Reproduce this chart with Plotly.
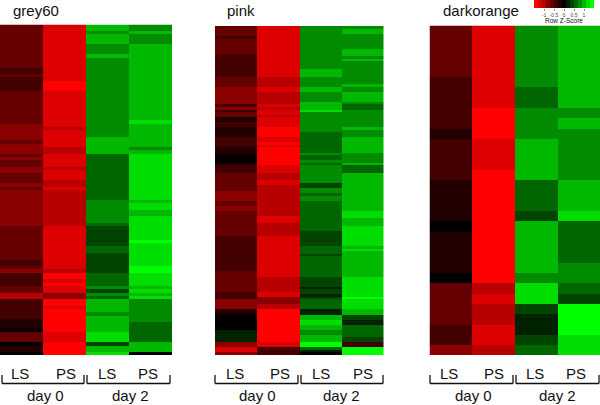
import numpy as np
import plotly.graph_objects as go

# values are in steps of the colour key (1 step = 0.2 z-score), read top to bottom
step = 0.2
columns = ["LS day 0", "PS day 0", "LS day 2", "PS day 2"]

grey60_ls0 = [-3]*13 + [-2]*2 + [-3]*1 + [-2]*4 + [-3]*10 + [-4]*5 + [-3]*1 + [-4]*3 + [-3]*1 + [-4]*1 + [-3]*2 + [-4]*2 + [-3]*3 + [-4]*1 + [-3]*1 + [-4]*11 + [-3]*10 + [-2]*2 + [-3]*1 + [-4]*1 + [-2]*4 + [-3]*2 + [-5]*2 + [-2]*6 + [-1]*3 + [0]*1 + [-3]*3 + [0]*1 + [-1]*2 + [0]*1
grey60_ps0 = [-6]*17 + [-7]*3 + [-6]*11 + [-5]*1 + [-6]*5 + [-5]*2 + [-6]*4 + [-5]*1 + [-6]*3 + [-5]*2 + [-6]*1 + [-5]*11 + [-6]*13 + [-5]*1 + [-7]*2 + [-6]*1 + [-7]*1 + [-6]*2 + [-4]*2 + [-7]*2 + [-6]*1 + [-7]*7 + [-6]*3 + [-7]*4
grey60_ls2 = [5]*2 + [4]*1 + [5]*3 + [4]*3 + [5]*1 + [4]*24 + [5]*5 + [3]*14 + [4]*7 + [3]*1 + [2]*6 + [3]*2 + [2]*6 + [3]*4 + [4, 2, 4, 3] + [5]*4 + [4]*1 + [5]*5 + [6]*3 + [2]*1 + [5]*2 + [6]*1
grey60_ps2 = [4]*2 + [5]*1 + [4]*3 + [5]*23 + [6]*1 + [5]*7 + [4]*1 + [5]*1 + [6]*14 + [5]*1 + [6]*2 + [5]*2 + [6]*7 + [7]*1 + [6]*7 + [7]*2 + [6]*4 + [5, 6, 5, 6] + [4]*7 + [3]*6 + [5]*3 + [0]*1

pink_ls0 = [-3]*4 + [-2]*1 + [-3]*6 + [-2]*9 + [-3]*4 + [-4]*7 + [-2]*1 + [-4]*1 + [-2]*1 + [-3]*2 + [-1]*2 + [-2]*2 + [-1]*4 + [-2]*4 + [-1]*3 + [0]*3 + [-1]*1 + [-2]*3 + [-3]*7 + [-4]*4 + [-3]*2 + [-4]*2 + [-3]*10 + [-2]*14 + [-3]*8 + [-2]*3 + [-4]*4 + [-1]*2 + [0]*6 + [1]*5 + [-4]*2 + [-6]*2 + [-4]*1
pink_ps0 = [-6]*20 + [-5]*4 + [-6]*2 + [-5]*5 + [-6]*1 + [-5]*1 + [-6]*2 + [-5]*1 + [-6]*4 + [-7]*4 + [-6]*2 + [-7]*1 + [-6]*1 + [-7]*7 + [-6]*3 + [-5]*3 + [-6]*2 + [-5]*12 + [-6]*3 + [-5]*5 + [-6]*16 + [-5]*6 + [-6]*2 + [-4]*3 + [-5]*2 + [-7]*13 + [-6]*2 + [-2]*3
pink_ls2 = [4]*17 + [5]*3 + [4]*4 + [5]*2 + [4]*4 + [5]*3 + [6]*1 + [4]*8 + [3]*8 + [4]*1 + [3]*2 + [4]*1 + [3]*1 + [4]*7 + [2]*2 + [4]*2 + [3]*1 + [4]*2 + [3]*12 + [2]*6 + [3]*3 + [2]*1 + [3]*8 + [2]*4 + [1]*1 + [2]*2 + [1]*1 + [2]*1 + [3]*4 + [1]*2 + [5]*2 + [6]*2 + [5]*2 + [4]*2 + [5]*3 + [7]*2 + [3]*1 + [1]*1 + [0]*1
pink_ps2 = [4]*1 + [5]*2 + [4]*6 + [5]*3 + [4]*1 + [5]*1 + [4]*9 + [5]*1 + [4]*2 + [5]*4 + [4]*1 + [3]*2 + [4]*7 + [5]*1 + [4]*3 + [5]*6 + [4]*4 + [5]*1 + [3]*3 + [5]*15 + [6]*3 + [5]*3 + [6]*8 + [5]*1 + [6]*1 + [5]*10 + [6]*8 + [7]*1 + [6]*4 + [5]*2 + [2]*2 + [1]*2 + [3]*5 + [2]*2 + [-2]*2 + [7]*3

darkorange_ls0 = [-3]*5 + [-2]*5 + [-1]*1 + [-2]*4 + [-1]*4 + [0]*1 + [-1]*4 + [0]*1 + [-3]*4 + [-2]*2 + [-4]*1
darkorange_ps0 = [-6]*8 + [-7]*3 + [-6]*3 + [-7]*11 + [-5]*1 + [-6]*1 + [-5]*2 + [-6]*2 + [-5]*1
darkorange_ls2 = [4]*6 + [3]*2 + [4]*3 + [5]*4 + [3]*3 + [2]*1 + [5]*5 + [4]*1 + [6]*2 + [2]*1 + [1]*2 + [2]*1 + [3]*1
darkorange_ps2 = [5]*8 + [4]*1 + [5]*1 + [4]*5 + [5]*3 + [6]*1 + [3]*4 + [4]*2 + [3]*1 + [2]*1 + [7]*3 + [6]*2

key_values = [-7, -6, -5, -4, -3, -2, -1, 0, 1, 2, 3, 4, 5, 6, 7]
key_ticks = [-1, -0.5, 0, 0.5, 1]

# red - black - green, one colour per key step
levels = [0x00, 0x22, 0x44, 0x66, 0x8b, 0xb8, 0xdd, 0xff]
colors = ["rgb(%d,0,0)" % levels[i] for i in range(7, 0, -1)] + ["rgb(0,%d,0)" % v for v in levels]
colorscale = [[i / 14, c] for i, c in enumerate(colors)]

W, H = 600, 405

# name, data, x0, x1, y0, y1, label centres, bracket spans
panels = [
	("grey60", [grey60_ls0, grey60_ps0, grey60_ls2, grey60_ps2], 0, 172, 24.5, 355, 12,
		[20, 66, 107, 148], [45, 130], [(2, 84), (87, 170)]),
	("pink", [pink_ls0, pink_ps0, pink_ls2, pink_ps2], 215, 383.5, 26, 355, 226,
		[235, 280, 321, 363], [257, 341], [(215, 298), (301, 383)]),
	("darkorange", [darkorange_ls0, darkorange_ps0, darkorange_ls2, darkorange_ps2], 429.5, 600, 25.5, 355, 442,
		[449, 494, 535, 576], [473, 557], [(430, 513), (516, 599)]),
]

fig = go.Figure()
layout = dict(width=W, height=H, margin=dict(l=0, r=0, t=0, b=0), paper_bgcolor="white",
	plot_bgcolor="white", showlegend=False, annotations=[], shapes=[],
	font=dict(family="Liberation Sans", color="#111111"))


def text(x, y, s, size, xanchor="center"):
	layout["annotations"].append(dict(x=x / W, y=1 - y / H, xref="paper", yref="paper", text=s,
		showarrow=False, xanchor=xanchor, yanchor="middle", font=dict(size=size), borderpad=0))


def line(x0, y0, x1, y1):
	layout["shapes"].append(dict(type="line", xref="paper", yref="paper", x0=x0 / W, x1=x1 / W,
		y0=1 - y0 / H, y1=1 - y1 / H, line=dict(color="#111111", width=1.3)))


for i, (name, cols, x0, x1, y0, y1, title_x, labels_x, days_x, spans) in enumerate(panels):
	n = i + 1
	z = (np.array(cols).T * step).tolist()
	fig.add_trace(go.Heatmap(z=z, x=columns, y=list(range(len(cols[0]))), colorscale=colorscale,
		zmin=-1.4, zmax=1.4, showscale=False, xaxis="x%d" % n, yaxis="y%d" % n))
	layout["xaxis%d" % n] = dict(domain=[x0 / W, x1 / W], anchor="y%d" % n, visible=False,
		range=[-0.5, 3.5])
	layout["yaxis%d" % n] = dict(domain=[1 - y1 / H, 1 - y0 / H], anchor="x%d" % n, visible=False,
		range=[len(cols[0]) - 0.5, -0.5])
	text(title_x, 11, name, 15, "left")
	for x, s in zip(labels_x, ["LS", "PS", "LS", "PS"]):
		text(x, 373, s, 15)
	for x, s in zip(days_x, ["day 0", "day 2"]):
		text(x, 395, s, 15)
	for a, b in spans:
		line(a, 375, a, 383.5)
		line(a, 383.5, b, 383.5)
		line(b, 383.5, b, 375)

# colour key, top right
fig.add_trace(go.Heatmap(z=[[v * step for v in key_values]], x=[v * step for v in key_values], y=[0],
	colorscale=colorscale, zmin=-1.4, zmax=1.4, showscale=False, xaxis="x4", yaxis="y4"))
layout["xaxis4"] = dict(domain=[534 / W, 594 / W], anchor="y4", range=[-1.5, 1.5], tickvals=key_ticks,
	ticktext=["-1", "-0.5", "0", "0.5", "1"], ticks="outside", ticklen=2, tickwidth=0.5, tickcolor="#888888",
	tickfont=dict(size=5, color="#444444"), showgrid=False, zeroline=False, showline=False)
layout["yaxis4"] = dict(domain=[1 - 8 / H, 1], anchor="x4", visible=False)
text(564, 20.5, "Row Z-Score", 6.5)

fig.update_layout(**layout)
# the page's default body margin would push the figure 8px in
fig.write_html("out.html", config={"displayModeBar": False},
	post_script="document.body.style.margin='0';document.body.style.overflow='hidden';")
